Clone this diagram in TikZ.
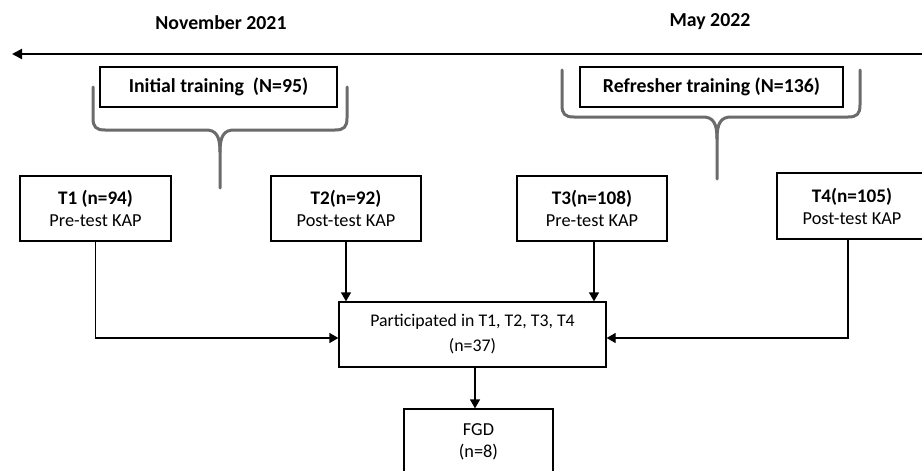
\documentclass[tikz,border=0pt]{standalone}
\usepackage{fontspec}
\setmainfont{Carlito}
\usetikzlibrary{arrows.meta}
\begin{document}
\begin{tikzpicture}[x=1pt,y=-1pt,
  box/.style={draw=black,line width=1.3pt,rectangle,inner sep=0pt,align=center,
    font=\fontsize{18.3}{22}\selectfont,text=black},
  bfbox/.style={box,font=\fontsize{19.8}{22.5}\selectfont\bfseries},
  title/.style={font=\fontsize{19.8}{22.5}\selectfont\bfseries,text=black,inner sep=0pt},
  conn/.style={draw=black,line width=1.3pt,-{Triangle[length=9pt,width=10pt]}},
  bracestyle/.style={draw=black!58,line width=3pt,line cap=round,line join=round}]
\clip (0,0) rectangle (922,471);
\fill[white] (0,0) rectangle (922,471);

% titles
\node[title,anchor=base] (nov) at (221,30) {November 2021};
\node[title,anchor=base] (may) at (710,26) {May 2022};

% timeline arrow
\coordinate (arrR) at (925,54);
\coordinate (arrL) at (12,54);
\draw[line width=2pt,-{Triangle[length=10pt,width=10pt]}] (arrR) -- (arrL);

% training boxes
\node[bfbox,minimum width=237pt,minimum height=40pt] (init) at (218.5,87) {Initial training\ \ (N=95)};
\node[bfbox,minimum width=263pt,minimum height=40pt] (refr) at (711.5,87) {Refresher training (N=136)};

% braces
\draw[bracestyle] (93,87) -- (93,118) .. controls (93,127) and (96,130) .. (105,130)
  -- (206,130) .. controls (216,130) and (220,136) .. (220,152) -- (220,188);
\draw[bracestyle] (347,87) -- (347,118) .. controls (347,127) and (344,130) .. (335,130)
  -- (234,130) .. controls (224,130) and (220,136) .. (220,152);
\draw[bracestyle] (562,70) -- (562,105) .. controls (562,114) and (565,117) .. (574,117)
  -- (703,117) .. controls (713,117) and (717,123) .. (717,139) -- (717,179);
\draw[bracestyle] (860,70) -- (860,105) .. controls (860,114) and (857,117) .. (848,117)
  -- (731,117) .. controls (721,117) and (717,123) .. (717,139);

% T boxes
\node[box,minimum width=151pt,minimum height=65pt] (t1) at (95.5,208.5) {{\fontsize{19.2}{22}\selectfont\bfseries T1 (n=94)}\\Pre-test KAP};
\node[box,minimum width=150pt,minimum height=65pt] (t2) at (346,208.5) {{\fontsize{19.2}{22}\selectfont\bfseries T2(n=92)}\\Post-test KAP};
\node[box,minimum width=150pt,minimum height=65pt] (t3) at (592,208.5) {{\fontsize{19.2}{22}\selectfont\bfseries T3(n=108)}\\Pre-test KAP};
\node[box,minimum width=150pt,minimum height=66pt] (t4) at (852,206) {{\fontsize{19.2}{22}\selectfont\bfseries T4(n=105)}\\Post-test KAP};

% participated
\node[box,minimum width=267pt,minimum height=65pt,font=\fontsize{17.8}{25}\selectfont] (part) at (472.5,334.5) {Participated in T1, T2, T3, T4\\(n=37)};

% FGD
\node[box,minimum width=149pt,minimum height=65pt] (fgd) at (478.5,441.5) {FGD\\(n=8)};

% connectors
\draw[conn] (t1.south) |- ([yshift=-3.5pt]part.west);
\draw[conn] (t2.south) -- (t2.south |- part.north);
\draw[conn] ([xshift=2pt]t3.south) -- ([xshift=2pt]t3.south |- part.north);
\draw[conn] ([xshift=-4pt]t4.south) |- ([yshift=-3.5pt]part.east);
\draw[conn] ([xshift=2.5pt]part.south) -- ([xshift=2.5pt]part.south |- fgd.north);
\end{tikzpicture}
\end{document}
